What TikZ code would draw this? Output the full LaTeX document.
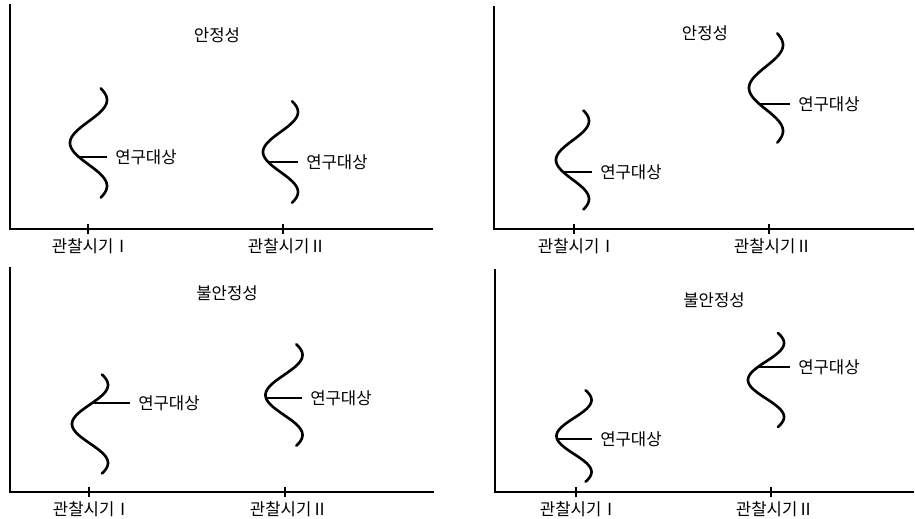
\documentclass[tikz,border=0pt]{standalone}
\usepackage{fontspec}
\newfontfamily\korean{Noto Sans CJK KR}
\usepackage{tikz}
\usetikzlibrary{positioning, calc}

% sideways distribution curve with the study object marked on it
% #1 name, #2 x centre, #3 y centre, #4 amplitude, #5 half height, #6 offset of mark, #7 end of mark line
\newcommand{\studycurve}[7]{%
  \draw[dist] plot[domain=-1.27:1.27, samples=60, smooth]
    ({#2 - #4*cos(180*\x)}, {#3 + #5*\x});
  \coordinate (#1on) at ({#2 - #4*cos(180*(#6)/(#5))}, {#3 + #6});
  \node[obj] (#1) at (#7, #3 + #6) {연구대상};
  \draw[mark line] (#1on) -- (#1.west);
}

\begin{document}
\begin{tikzpicture}[
  x=0.02cm, y=-0.02cm,
  axis/.style={line width=1.1pt, line cap=rect},
  dist/.style={line width=1.5pt, line cap=round},
  mark line/.style={line width=1.1pt},
  obj/.style={anchor=west, inner xsep=4.5pt,
              font=\korean\fontsize{9.5}{11}\selectfont},
  ttl/.style={font=\korean\fontsize{9.5}{11}\selectfont},
  lab/.style={anchor=north, inner sep=1pt,
              font=\korean\fontsize{9.5}{11}\selectfont}
]
  \useasboundingbox (0,0) rectangle (915,519);

  %% Axes, ticks and time labels of the four panels
  \foreach \p/\ox/\oy/\top/\right/\ta/\tb in
      {1/10/229/5/432/88/283, 2/494/229/7/913/574/769,
       3/10/492/268/433/89/285, 4/495/492/270/913/576/771} {
    \draw[axis] (\ox,\top) -- (\ox,\oy) -- (\right,\oy);
    \coordinate (t\p a) at (\ta,\oy);
    \coordinate (t\p b) at (\tb,\oy);
    \draw[line width=1.2pt] ($(t\p a)+(0,-5)$) -- ($(t\p a)+(0,5)$);
    \draw[line width=1.2pt] ($(t\p b)+(0,-5)$) -- ($(t\p b)+(0,5)$);
    \node[lab] (lab\p a) at ($(t\p a)+(3,8)$) {관찰시기Ⅰ};
    \node[lab] (lab\p b) at ($(t\p b)+(4,8)$) {관찰시기Ⅱ};
  }

  %% Panel titles
  \node[ttl] (ttl1) at (217,35)  {안정성};
  \node[ttl] (ttl2) at (705,33)  {안정성};
  \node[ttl] (ttl3) at (227,293) {불안정성};
  \node[ttl] (ttl4) at (714,300) {불안정성};

  %% Study objects: stable
  \studycurve{obj1a}{88.5}{143}{18.5}{43}{14}{107}
  \studycurve{obj1b}{280.5}{152}{17.5}{40}{10}{298}
  \studycurve{obj2a}{572.5}{160}{16.5}{39}{12}{592}
  \studycurve{obj2b}{766}{88}{17}{43}{16}{790}

  %% Study objects: unstable
  \studycurve{obj3a}{90}{424}{18}{39}{-21}{130}
  \studycurve{obj3b}{284}{395}{18.5}{40}{3}{302}
  \studycurve{obj4a}{574}{436}{17.5}{36}{3}{592}
  \studycurve{obj4b}{766}{380}{18}{37}{-13}{790}

\end{tikzpicture}
\end{document}
